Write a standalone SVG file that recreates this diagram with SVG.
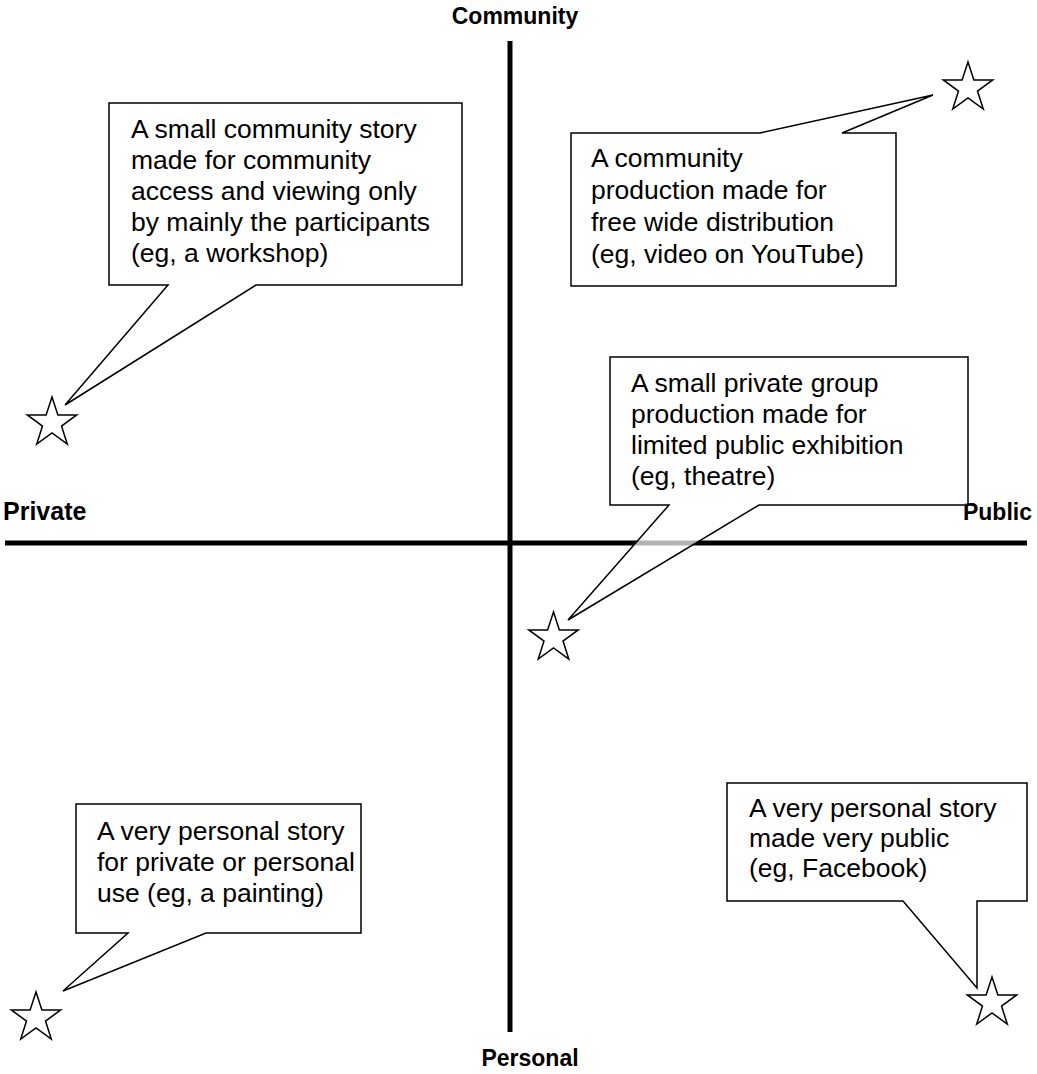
<svg xmlns="http://www.w3.org/2000/svg" xmlns:xlink="http://www.w3.org/1999/xlink" width="1037" height="1074" viewBox="0 0 1037 1074">
<style>
.axis{stroke:#000;stroke-width:5;fill:none}
.lbl{font-family:"Liberation Sans",Arial,sans-serif;font-weight:bold;font-size:23px;fill:#000}
.co{fill:#fff;fill-opacity:0.7;stroke:#000;stroke-width:1.5;stroke-linejoin:miter}
.txt{font-family:"Liberation Sans",Arial,sans-serif;font-size:26.5px;fill:#000}
.star{fill:#fff;stroke:#000;stroke-width:1.5;stroke-linejoin:miter}
</style>
<defs>
<polygon id="star" class="star" points="0,-26 5.88,-8.09 24.73,-8.03 9.51,3.09 15.28,21.03 0,10 -15.28,21.03 -9.51,3.09 -24.73,-8.03 -5.88,-8.09"/>
</defs>
<rect width="1037" height="1074" fill="#fff"/>
<g id="axes">
<line class="axis" x1="510" y1="41" x2="510" y2="1032"/>
<line class="axis" x1="5" y1="543" x2="1027" y2="543"/>
</g>
<g id="labels">
<text class="lbl" x="515" y="24" text-anchor="middle">Community</text>
<text class="lbl" x="530" y="1066" text-anchor="middle">Personal</text>
<text class="lbl" x="3" y="520" style="font-size:25px">Private</text>
<text class="lbl" x="1032" y="520" text-anchor="end">Public</text>
</g>
<g id="connectors"></g>
<g id="node1">
<path class="co" d="M109,103 H462 V285 H256 L65,405 L168,285 H109 Z"/>
<text class="txt" x="131" y="138"><tspan x="131">A small community story</tspan><tspan x="131" dy="31">made for community</tspan><tspan x="131" dy="31">access and viewing only</tspan><tspan x="131" dy="31">by mainly the participants</tspan><tspan x="131" dy="31">(eg, a workshop)</tspan></text>
<use xlink:href="#star" href="#star" x="52" y="423"/>
</g>
<g id="node2">
<path class="co" d="M571,133 H760 L933,95 L842,133 H896 V286 H571 Z"/>
<text class="txt" x="591" y="167"><tspan x="591">A community</tspan><tspan x="591" dy="32">production made for</tspan><tspan x="591" dy="32">free wide distribution</tspan><tspan x="591" dy="32">(eg, video on YouTube)</tspan></text>
<use xlink:href="#star" href="#star" x="968" y="88"/>
</g>
<g id="node3">
<path class="co" d="M610,357 H968 V505 H759 L568,620 L669,505 H610 Z"/>
<text class="txt" x="631" y="392"><tspan x="631">A small private group</tspan><tspan x="631" dy="31">production made for</tspan><tspan x="631" dy="31">limited public exhibition</tspan><tspan x="631" dy="31">(eg, theatre)</tspan></text>
<use xlink:href="#star" href="#star" x="553.5" y="638"/>
</g>
<g id="node4">
<path class="co" d="M76,804 H361 V933 H206 L63,991 L128,933 H76 Z"/>
<text class="txt" x="97" y="840"><tspan x="97">A very personal story</tspan><tspan x="97" dy="31">for private or personal</tspan><tspan x="97" dy="31">use (eg, a painting)</tspan></text>
<use xlink:href="#star" href="#star" x="36" y="1018"/>
</g>
<g id="node5">
<path class="co" d="M727,783 H1027 V901 H977 V988 L903,901 H727 Z"/>
<text class="txt" x="749" y="817"><tspan x="749">A very personal story</tspan><tspan x="749" dy="30">made very public</tspan><tspan x="749" dy="30">(eg, Facebook)</tspan></text>
<use xlink:href="#star" href="#star" x="992" y="1003"/>
</g>
</svg>
